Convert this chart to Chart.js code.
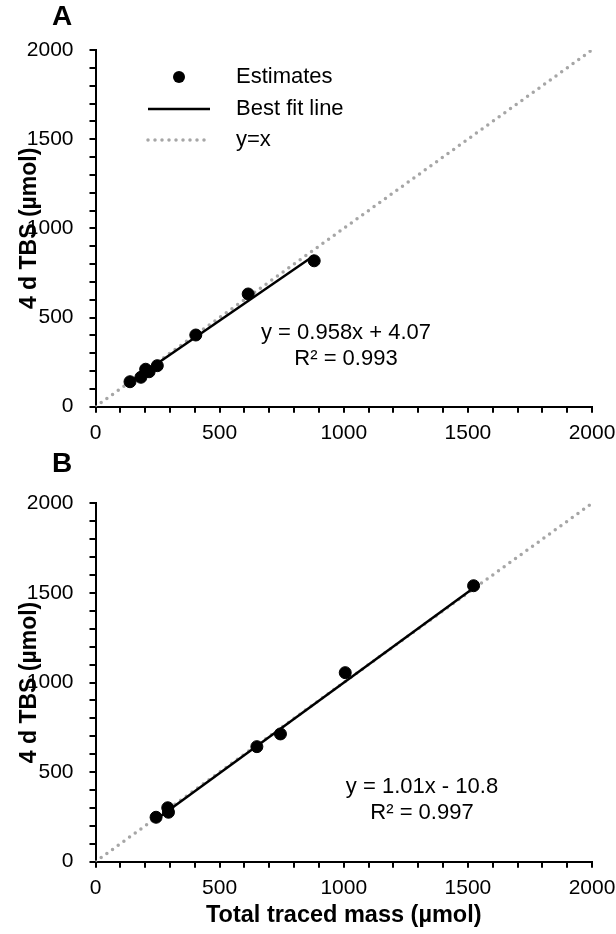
<!DOCTYPE html>
<html>
<head>
<meta charset="utf-8">
<script src="https://cdn.jsdelivr.net/npm/chart.js@4/dist/chart.umd.min.js"></script>
<style>
  html, body { margin: 0; padding: 0; background: #fff; }
  canvas { display: block; }
</style>
</head>
<body>
<canvas id="chartA" width="616" height="447"></canvas>
<canvas id="chartB" width="616" height="487"></canvas>
<script>
// ---- Data ----
const panelA_x = [139, 183, 202, 216, 249, 404, 615, 881];
const panelA_y = [140, 165, 210, 196, 230, 402, 632, 818];
const panelA_fitX = [139, 881];
const panelA_fitY = [137, 848];
const panelA_eq = ['y = 0.958x + 4.07', 'R\u00B2 = 0.993'];

const panelB_x = [244, 291, 294, 650, 745, 1006, 1523];
const panelB_y = [248, 301, 276, 642, 713, 1055, 1540];
const panelB_fitX = [244, 1523];
const panelB_fitY = [236, 1527];
const panelB_eq = ['y = 1.01x - 10.8', 'R\u00B2 = 0.997'];

const identityX = [0, 2000];
const identityY = [0, 2000];

const axisMin = 0, axisMax = 2000, minorStep = 100, majorStep = 500;
const seriesNames = ['Estimates', 'Best fit line', 'y=x'];
const yTitle = '4 d TBS (\u00B5mol)';
const xTitle = 'Total traced mass (\u00B5mol)';

const FONT = "'Liberation Sans', Arial, sans-serif";
const GREY = '#a6a6a6';

function pts(xs, ys) { return xs.map((x, i) => ({ x: x, y: ys[i] })); }

function makeChart(id, opts) {
  const annot = {
    id: 'annot' + id,
    afterDraw(chart) {
      const ctx = chart.ctx;
      ctx.save();
      // panel letter
      ctx.fillStyle = '#000';
      ctx.font = 'bold 28px ' + FONT;
      ctx.textAlign = 'center';
      ctx.textBaseline = 'middle';
      ctx.fillText(opts.letter, 62, 17);
      // equation
      ctx.font = '22px ' + FONT;
      ctx.fillText(opts.eq[0], opts.eqX, opts.eqY);
      ctx.fillText(opts.eq[1], opts.eqX, opts.eqY + 26);
      // legend
      if (opts.legend) {
        ctx.textAlign = 'left';
        ctx.font = '22px ' + FONT;
        const lx0 = 148, lx1 = 210, tx = 236;
        const rows = [77, 109, 140];
        ctx.beginPath();
        ctx.arc((lx0 + lx1) / 2, rows[0], 6, 0, Math.PI * 2);
        ctx.fillStyle = '#000';
        ctx.fill();
        ctx.fillText(seriesNames[0], tx, rows[0]);
        ctx.strokeStyle = '#000';
        ctx.lineWidth = 2.5;
        ctx.beginPath();
        ctx.moveTo(lx0, rows[1]); ctx.lineTo(lx1, rows[1]);
        ctx.stroke();
        ctx.fillText(seriesNames[1], tx, rows[1]);
        ctx.strokeStyle = GREY;
        ctx.lineWidth = 3.5;
        ctx.lineCap = 'round';
        ctx.setLineDash([0, 7]);
        ctx.beginPath();
        ctx.moveTo(lx0, rows[2]); ctx.lineTo(lx1, rows[2]);
        ctx.stroke();
        ctx.setLineDash([]);
        ctx.fillText(seriesNames[2], tx, rows[2]);
      }
      ctx.restore();
    }
  };

  const tickCb = v => (v % majorStep === 0 ? String(v) : '');

  return new Chart(document.getElementById(id), {
    type: 'scatter',
    data: {
      datasets: [
        {
          label: seriesNames[0],
          data: pts(opts.xs, opts.ys),
          backgroundColor: '#000',
          borderColor: '#000',
          pointRadius: 6,
          pointBorderWidth: 1,
          showLine: false
        },
        {
          label: seriesNames[1],
          data: pts(opts.fitX, opts.fitY),
          showLine: true,
          borderColor: '#000',
          borderWidth: 2.5,
          pointRadius: 0,
          fill: false
        },
        {
          label: seriesNames[2],
          data: pts(identityX, identityY),
          showLine: true,
          borderColor: GREY,
          borderWidth: 3.5,
          borderDash: [0, 7],
          borderCapStyle: 'round',
          pointRadius: 0,
          fill: false
        }
      ]
    },
    options: {
      responsive: false,
      animation: false,
      devicePixelRatio: 1,
      layout: { padding: { top: opts.padTop, right: 24, bottom: 0, left: 0 } },
      plugins: { legend: { display: false }, tooltip: { enabled: false } },
      scales: {
        x: {
          type: 'linear',
          min: axisMin, max: axisMax,
          afterFit: s => { s.height = opts.xHeight; s.paddingRight = 0; s.paddingLeft = 0; },
          border: { display: true, color: '#000', width: 2 },
          grid: { drawOnChartArea: false, drawTicks: true, tickLength: 6, color: '#000', lineWidth: 2 },
          ticks: {
            stepSize: minorStep, autoSkip: false, maxRotation: 0,
            padding: 8, color: '#000', font: { family: FONT, size: 21 },
            callback: tickCb
          },
          title: opts.xTitle ? {
            display: true, text: xTitle, color: '#000',
            font: { family: FONT, size: 23.5, weight: 'bold' },
            padding: { top: 4, bottom: 4 }
          } : { display: false }
        },
        y: {
          type: 'linear',
          min: axisMin, max: axisMax,
          afterFit: s => { s.width = 95.5; s.paddingTop = 0; s.paddingBottom = 0; },
          border: { display: true, color: '#000', width: 2 },
          grid: { drawOnChartArea: false, drawTicks: true, tickLength: 6, color: '#000', lineWidth: 2 },
          ticks: {
            stepSize: minorStep, autoSkip: false,
            padding: 16, color: '#000', font: { family: FONT, size: 21 },
            callback: tickCb
          },
          title: {
            display: true, text: yTitle, color: '#000',
            font: { family: FONT, size: 23, weight: 'bold' },
            padding: { top: 16, bottom: 0 }
          }
        }
      }
    },
    plugins: [annot]
  });
}

makeChart('chartA', {
  letter: 'A', xs: panelA_x, ys: panelA_y, fitX: panelA_fitX, fitY: panelA_fitY,
  eq: panelA_eq, eqX: 346, eqY: 333, legend: true, padTop: 50, xHeight: 40.3, xTitle: false
});
makeChart('chartB', {
  letter: 'B', xs: panelB_x, ys: panelB_y, fitX: panelB_fitX, fitY: panelB_fitY,
  eq: panelB_eq, eqX: 422, eqY: 787 - 447, legend: false, padTop: 56.3, xHeight: 72.3, xTitle: true
});
</script>
</body>
</html>
